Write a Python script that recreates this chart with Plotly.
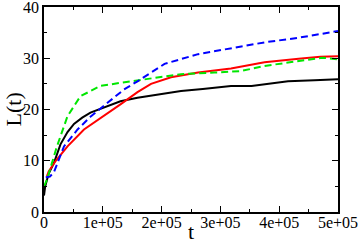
import plotly.graph_objects as go

# Data (t in raw units)
t_black = [0, 2e3, 8e3, 1.7e4, 2.8e4, 4.0e4, 5.1e4, 6.5e4, 7.9e4, 1.02e5, 1.3e5, 1.59e5, 2.0e5, 2.33e5, 2.7e5, 3.18e5, 3.53e5, 4.15e5, 4.6e5, 5.0e5]
L_black = [3.2, 5, 7.5, 9.6, 13.2, 15.6, 17.2, 18.4, 19.4, 20.4, 21.6, 22.3, 23.0, 23.6, 24.0, 24.6, 24.6, 25.5, 25.7, 25.9]

t_red = [5e3, 8e3, 2.0e4, 4.0e4, 6.8e4, 1.02e5, 1.3e5, 1.59e5, 1.82e5, 2.16e5, 2.62e5, 3.18e5, 3.75e5, 4.33e5, 4.7e5, 5.0e5]
L_red = [7.0, 7.9, 10.0, 12.8, 16.1, 18.7, 21.0, 23.4, 25.0, 26.3, 27.2, 28.0, 29.2, 29.9, 30.3, 30.4]

t_green = [0, 5e3, 2.2e4, 4.0e4, 6.2e4, 9.6e4, 1.3e5, 1.59e5, 2.0e5, 2.33e5, 2.9e5, 3.35e5, 3.75e5, 4.33e5, 4.73e5, 5.0e5]
L_green = [5.0, 6.3, 12.8, 18.7, 22.6, 24.6, 25.2, 25.7, 26.3, 26.9, 27.2, 27.5, 28.5, 29.5, 30.1, 29.8]

t_blue = [3e3, 1.0e4, 1.7e4, 3.4e4, 5.7e4, 8.0e4, 1.08e5, 1.36e5, 1.59e5, 2.05e5, 2.62e5, 3.18e5, 3.75e5, 4.33e5, 5.0e5]
L_blue = [6.8, 6.9, 7.8, 12.8, 16.1, 18.7, 21.3, 23.9, 25.5, 28.9, 30.8, 31.9, 33.1, 34.0, 35.3]

x_tickvals = [0, 1e5, 2e5, 3e5, 4e5, 5e5]
x_ticktext = ["0", "1e+05", "2e+05", "3e+05", "4e+05", "5e+05"]
y_tickvals = [0, 10, 20, 30, 40]

fig = go.Figure()
fig.add_trace(go.Scatter(x=t_black, y=L_black, mode="lines", line=dict(color="black", width=2)))
fig.add_trace(go.Scatter(x=t_red, y=L_red, mode="lines", line=dict(color="#ff0000", width=2)))
fig.add_trace(go.Scatter(x=t_green, y=L_green, mode="lines", line=dict(color="#00e600", width=2, dash="7px,4px")))
fig.add_trace(go.Scatter(x=t_blue, y=L_blue, mode="lines", line=dict(color="#0000ff", width=2, dash="7px,4px")))

fam = "Liberation Serif, Times New Roman, serif"

fig.update_layout(
    width=360, height=247,
    margin=dict(l=44, r=22, t=7, b=35),
    plot_bgcolor="white", paper_bgcolor="white",
    showlegend=False,
    font=dict(family=fam, color="black"),
    annotations=[
        dict(text="t", xref="paper", yref="paper", x=0.5, y=0, xanchor="center", yanchor="middle",
             yshift=-19, showarrow=False, font=dict(size=22, family=fam, color="black")),
        dict(text="L(t)", xref="paper", yref="paper", x=0, y=0.5, xanchor="center", yanchor="middle",
             xshift=-31, textangle=-90, showarrow=False, font=dict(size=22, family=fam, color="black")),
    ],
)
fig.update_xaxes(
    range=[0, 5e5], tickmode="array", tickvals=x_tickvals, ticktext=x_ticktext,
    ticks="inside", ticklen=6, tickwidth=1, tickcolor="black",
    minor=dict(ticks="inside", dtick=5e4, tick0=0, ticklen=3, tickcolor="black", showgrid=False),
    showline=True, linecolor="black", linewidth=1.5, mirror="allticks",
    showgrid=False, zeroline=False, automargin=False, ticklabeloverflow="allow",
    ticklabelstandoff=-5,
    tickfont=dict(size=16, family=fam),
)
fig.update_yaxes(
    range=[0, 40], tickmode="array", tickvals=y_tickvals,
    ticks="inside", ticklen=6, tickwidth=1, tickcolor="black",
    minor=dict(ticks="inside", dtick=5, tick0=0, ticklen=3, tickcolor="black", showgrid=False),
    showline=True, linecolor="black", linewidth=1.5, mirror="allticks",
    showgrid=False, zeroline=False, automargin=False, ticklabeloverflow="allow",
    tickfont=dict(size=16, family=fam),
)
fig.write_html("out.html", config={"displayModeBar": False},
               post_script="document.body.style.margin='0';document.body.style.overflow='hidden';")
